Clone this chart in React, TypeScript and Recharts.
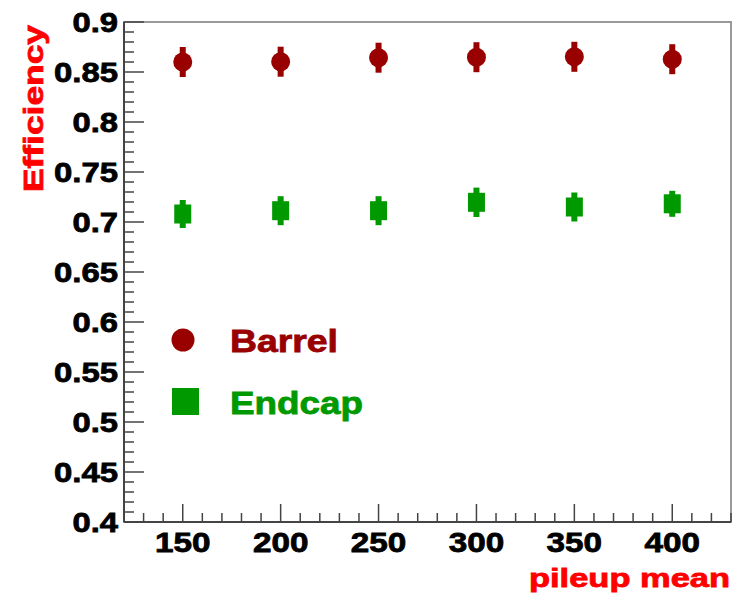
import React from "react"
import {
  ScatterChart,
  Scatter,
  XAxis,
  YAxis,
  ErrorBar,
  ReferenceArea,
  Legend,
} from "recharts"

// pileup mean values
const pileup = [150, 200, 250, 300, 350, 400]

// efficiency, with symmetric errors
const barrelEff = [0.86, 0.8603, 0.8643, 0.8648, 0.8652, 0.8628]
const barrelErr = [0.015, 0.015, 0.015, 0.015, 0.015, 0.015]
const endcapEff = [0.708, 0.7113, 0.7113, 0.7197, 0.715, 0.7182]
const endcapErr = [0.014, 0.0145, 0.0145, 0.0147, 0.0145, 0.013]

const xMajorTicks = [150, 200, 250, 300, 350, 400]
const yMajorTicks = [0.4, 0.45, 0.5, 0.55, 0.6, 0.65, 0.7, 0.75, 0.8, 0.85, 0.9]

const X_DOMAIN: [number, number] = [120, 430]
const Y_DOMAIN: [number, number] = [0.4, 0.9]

// minor ticks every 10 on x and every 0.01 on y
const xTicks = Array.from({ length: 32 }, (_, i) => 120 + i * 10)
const yTicks = Array.from({ length: 51 }, (_, i) => Math.round(40 + i) / 100)

const BARREL = "#990000"
const ENDCAP = "#009900"
const TITLE_RED = "#ff0000"
const AXIS = "#444444"
const FONT = '"Liberation Sans", Arial, Helvetica, sans-serif'

const barrelData = pileup.map((x, i) => ({ x, y: barrelEff[i], err: barrelErr[i] }))
const endcapData = pileup.map((x, i) => ({ x, y: endcapEff[i], err: endcapErr[i] }))

function labelWidth(s: string) {
  let w = 0
  for (const c of s) w += c === "." ? 8.5 : 18.5
  return w
}

function YTick(props: any) {
  const { x, y, payload } = props
  const v: number = payload.value
  const major = yMajorTicks.some((t) => Math.abs(t - v) < 1e-6)
  const label = String(v)
  return (
    <g>
      <line x1={x} x2={x + (major ? 20 : 10)} y1={y} y2={y} stroke={AXIS} strokeWidth={1.5} />
      {major && (
        <text
          x={x - 6}
          y={y + 10}
          textAnchor="end"
          fontFamily={FONT}
          fontWeight="bold"
          fontSize={28}
          fill="#000"
          stroke="#000"
          strokeWidth={0.8}
          textLength={labelWidth(label)}
          lengthAdjust="spacingAndGlyphs"
        >
          {label}
        </text>
      )}
    </g>
  )
}

function XTick(props: any) {
  const { x, y, payload } = props
  const v: number = payload.value
  const major = xMajorTicks.includes(v)
  const label = String(v)
  return (
    <g>
      <line x1={x} x2={x} y1={y} y2={y - (major ? 18 : 9)} stroke={AXIS} strokeWidth={1.5} />
      {major && (
        <text
          x={x}
          y={y + 30}
          textAnchor="middle"
          fontFamily={FONT}
          fontWeight="bold"
          fontSize={28}
          fill="#000"
          stroke="#000"
          strokeWidth={0.8}
          textLength={labelWidth(label)}
          lengthAdjust="spacingAndGlyphs"
        >
          {label}
        </text>
      )}
    </g>
  )
}

function YTitle(props: any) {
  const vb = props.viewBox
  const tx = vb.x + vb.width - 81
  const ty = vb.y + 3
  return (
    <text
      x={tx}
      y={ty}
      transform={`rotate(-90 ${tx} ${ty})`}
      textAnchor="end"
      fontFamily={FONT}
      fontWeight="bold"
      fontSize={28}
      fill={TITLE_RED}
      stroke={TITLE_RED}
      strokeWidth={0.8}
      textLength={167}
      lengthAdjust="spacingAndGlyphs"
    >
      Efficiency
    </text>
  )
}

function XTitle(props: any) {
  const vb = props.viewBox
  return (
    <text
      x={vb.x + vb.width - 1}
      y={vb.y + 65}
      textAnchor="end"
      fontFamily={FONT}
      fontWeight="bold"
      fontSize={26}
      fill={TITLE_RED}
      stroke={TITLE_RED}
      strokeWidth={0.8}
      textLength={201}
      lengthAdjust="spacingAndGlyphs"
    >
      pileup mean
    </text>
  )
}

function LegendBox(props: any) {
  const items = props.payload || []
  return (
    <svg width={240} height={110}>
      {items.map((item: any, i: number) => {
        const cy = i === 0 ? 25 : 86.5
        return (
          <g key={item.value}>
            {i === 0 ? (
              <circle cx={23} cy={cy} r={11.5} fill={item.color} />
            ) : (
              <rect x={12} y={cy - 13.5} width={27} height={27} fill={item.color} />
            )}
            <text
              x={70}
              y={cy + 12}
              fontFamily={FONT}
              fontWeight="bold"
              fontSize={32}
              fill={item.color}
              stroke={item.color}
              strokeWidth={0.8}
              textLength={i === 0 ? 108 : 133}
              lengthAdjust="spacingAndGlyphs"
            >
              {item.value}
            </text>
          </g>
        )
      })}
    </svg>
  )
}

const circleShape = (p: any) => <circle cx={p.cx} cy={p.cy} r={9.5} fill={BARREL} />
const squareShape = (p: any) => (
  <rect x={p.cx - 8.5} y={p.cy - 9.5} width={17} height={19} fill={ENDCAP} />
)

export default function App() {
  return (
    <div style={{ position: "absolute", left: 0, top: 0, width: 739, height: 594, background: "#fff" }}>
      <ScatterChart width={739} height={594} margin={{ top: 22, right: 8, left: 24, bottom: 12 }}>
        <ReferenceArea
          x1={X_DOMAIN[0]}
          x2={X_DOMAIN[1]}
          y1={Y_DOMAIN[0]}
          y2={Y_DOMAIN[1]}
          fill="none"
          stroke="#9a9a9a"
          strokeWidth={2}
        />
        <XAxis
          type="number"
          dataKey="x"
          domain={X_DOMAIN}
          ticks={xTicks}
          interval={0}
          height={60}
          tickSize={0}
          tickMargin={0}
          tickLine={false}
          tick={<XTick />}
          axisLine={{ stroke: AXIS, strokeWidth: 2 }}
          label={<XTitle />}
        />
        <YAxis
          type="number"
          dataKey="y"
          domain={Y_DOMAIN}
          ticks={yTicks}
          interval={0}
          width={100}
          tickSize={0}
          tickMargin={0}
          tickLine={false}
          tick={<YTick />}
          axisLine={{ stroke: AXIS, strokeWidth: 2 }}
          label={<YTitle />}
        />
        <Legend
          layout="horizontal"
          verticalAlign="middle"
          align="center"
          content={<LegendBox />}
          wrapperStyle={{ left: 160, top: 315, width: 240, height: 110 }}
        />
        <Scatter
          name="Barrel"
          data={barrelData}
          dataKey="y"
          fill={BARREL}
          shape={circleShape}
          isAnimationActive={false}
        >
          <ErrorBar dataKey="err" direction="y" width={0} stroke={BARREL} strokeWidth={6} />
        </Scatter>
        <Scatter
          name="Endcap"
          data={endcapData}
          dataKey="y"
          fill={ENDCAP}
          shape={squareShape}
          isAnimationActive={false}
        >
          <ErrorBar dataKey="err" direction="y" width={0} stroke={ENDCAP} strokeWidth={6} />
        </Scatter>
      </ScatterChart>
    </div>
  )
}
